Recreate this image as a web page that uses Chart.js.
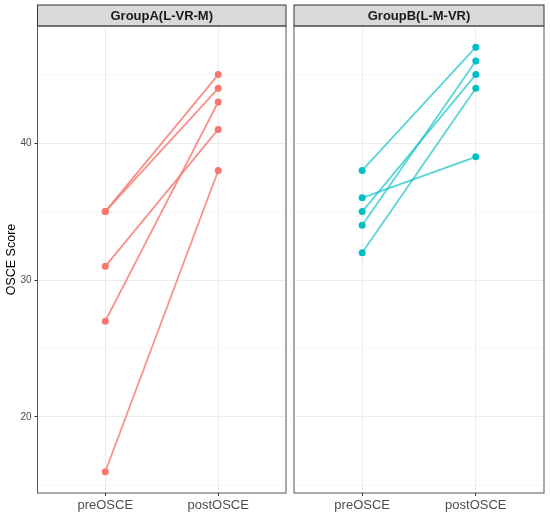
<!DOCTYPE html>
<html>
<head>
<meta charset="utf-8">
<script src="https://cdn.jsdelivr.net/npm/chart.js@4.4.1/dist/chart.umd.min.js"></script>
<style>
  html, body { margin: 0; padding: 0; background: #ffffff; }
  #wrap { position: relative; width: 550px; height: 518px; }
  .panel { position: absolute; top: 0; height: 518px; }
  #left-box { left: 0; width: 290px; }
  #right-box { left: 290px; width: 260px; }
</style>
</head>
<body>
<div id="wrap">
  <div class="panel" id="left-box"><canvas id="chart-a"></canvas></div>
  <div class="panel" id="right-box"><canvas id="chart-b"></canvas></div>
</div>
<script>
// 資料 — 每位受試者 OSCE 前後分數
const timeLabels = ['preOSCE', 'postOSCE'];
const groupNames = ['GroupA(L-VR-M)', 'GroupB(L-M-VR)'];

const groupAPre  = [35, 35, 31, 27, 16];
const groupAPost = [45, 44, 41, 43, 38];

const groupBPre  = [38, 36, 35, 34, 32];
const groupBPost = [47, 39, 45, 46, 44];

const yGridValues = [15, 20, 25, 30, 35, 40, 45];
const yLabelValues = [20, 30, 40];

const COLOR_A = '#F8766D';
const COLOR_B = '#00BFC4';
const LINE_A  = 'rgba(248, 118, 109, 0.8)';
const LINE_B  = 'rgba(0, 191, 196, 0.65)';

const Y_MIN = 14.45;
const Y_MAX = 48.55;

// 面板外框與上方標籤條（ggplot facet strip）
const panelFrame = {
  id: 'panelFrame',
  afterDraw(chart, args, opts) {
    const { ctx, chartArea: a } = chart;
    const stripH = 21;
    ctx.save();
    ctx.fillStyle = '#D9D9D9';
    ctx.fillRect(a.left, a.top - stripH, a.right - a.left, stripH);
    ctx.strokeStyle = '#333333';
    ctx.lineWidth = 1;
    ctx.strokeRect(a.left, a.top - stripH, a.right - a.left, stripH);
    ctx.strokeStyle = '#555555';
    ctx.strokeRect(a.left, a.top, a.right - a.left, a.bottom - a.top);
    ctx.fillStyle = '#1A1A1A';
    ctx.font = 'bold 13px "Liberation Sans", Arial, sans-serif';
    ctx.textAlign = 'center';
    ctx.textBaseline = 'middle';
    ctx.fillText(opts.label, (a.left + a.right) / 2, a.top - stripH / 2 + 1);
    ctx.restore();
  }
};

function _makeDatasets(pre, post, pointColor, lineColor) {
  return pre.map((v, i) => ({
    label: 'S' + (i + 1),
    data: [{ x: 1, y: v }, { x: 2, y: post[i] }],
    borderColor: lineColor,
    borderWidth: 1.8,
    pointBackgroundColor: pointColor,
    pointBorderColor: pointColor,
    pointRadius: 3.5,
    pointBorderWidth: 0,
    tension: 0,
    fill: false,
  }));
}

function _makeChart(canvasId, datasets, label, showY) {
  const ctx = document.getElementById(canvasId).getContext('2d');
  return new Chart(ctx, {
    type: 'line',
    data: { datasets },
    options: {
      responsive: true,
      maintainAspectRatio: false,
      animation: false,
      layout: { padding: { top: 26, bottom: 0, left: 0, right: showY ? 2.5 : 6 } },
      scales: {
        x: {
          type: 'linear',
          min: 0.4,
          max: 2.6,
          afterBuildTicks: s => { s.ticks = [{ value: 1 }, { value: 2 }]; },
          afterFit: s => { s.height = 25; },
          ticks: {
            color: '#4D4D4D',
            padding: 2,
            font: { size: 13, family: '"Liberation Sans", Arial, sans-serif' },
            callback: v => timeLabels[v - 1] || '',
          },
          grid: { color: '#EBEBEB', tickLength: 3, tickColor: '#333333', lineWidth: 1 },
          border: { display: false },
        },
        y: {
          min: Y_MIN,
          max: Y_MAX,
          afterBuildTicks: s => { s.ticks = yGridValues.map(v => ({ value: v })); },
          afterFit: s => { s.width = showY ? 37.5 : 3.5; },
          title: {
            display: showY,
            text: 'OSCE Score',
            color: '#000000',
            padding: { top: 4, bottom: 0 },
            font: { size: 12.5, family: '"Liberation Sans", Arial, sans-serif' },
          },
          ticks: {
            display: showY,
            color: '#4D4D4D',
            padding: 3,
            font: { size: 10, family: '"Liberation Sans", Arial, sans-serif' },
            callback: v => yLabelValues.includes(v) ? String(v) : '',
          },
          grid: {
            drawTicks: showY,
            tickLength: 3,
            tickColor: c => yLabelValues.includes(c.tick && c.tick.value) ? '#333333' : 'rgba(0,0,0,0)',
            color: c => yLabelValues.includes(c.tick && c.tick.value) ? '#EBEBEB' : '#F4F4F4',
            lineWidth: c => yLabelValues.includes(c.tick && c.tick.value) ? 1 : 0.7,
          },
          border: { display: false },
        },
      },
      plugins: {
        legend: { display: false },
        tooltip: { enabled: false },
        panelFrame: { label },
      },
    },
    plugins: [panelFrame],
  });
}

_makeChart('chart-a', _makeDatasets(groupAPre, groupAPost, COLOR_A, LINE_A), groupNames[0], true);
_makeChart('chart-b', _makeDatasets(groupBPre, groupBPost, COLOR_B, LINE_B), groupNames[1], false);
</script>
</body>
</html>
